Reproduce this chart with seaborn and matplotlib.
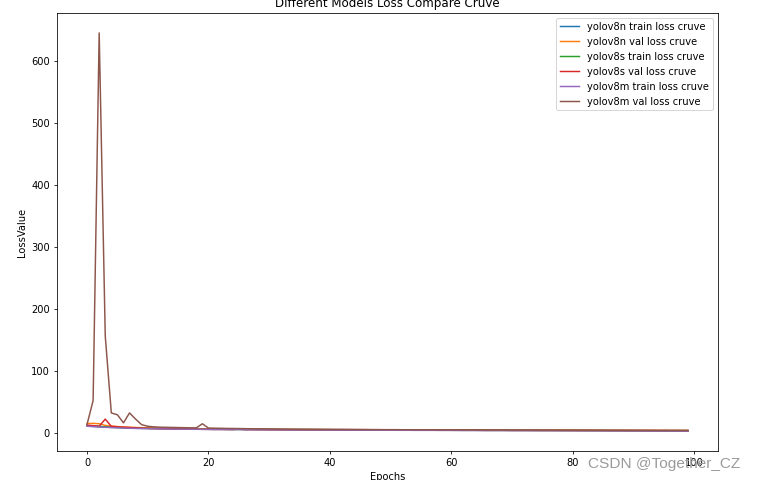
import numpy as np
import pandas as pd
import matplotlib
matplotlib.use('Agg')
import matplotlib.pyplot as plt
import seaborn as sns

plt.style.use('default')

# Epochs 0..99
epochs = list(range(100))

# Loss values
yolov8n_train = [11.6, 10.9, 10.3, 9.8, 9.3, 8.9, 8.5, 8.2, 7.9, 7.7,
                 7.5, 7.3, 7.1, 7.0, 6.8, 6.7, 6.6, 6.5, 6.4, 6.3,
                 6.2, 6.1, 6.0, 6.0, 5.9, 5.8, 5.8, 5.7, 5.7, 5.6,
                 5.6, 5.5, 5.5, 5.4, 5.4, 5.3, 5.3, 5.3, 5.2, 5.2,
                 5.1, 5.1, 5.1, 5.0, 5.0, 5.0, 4.9, 4.9, 4.9, 4.8,
                 4.8, 4.8, 4.7, 4.7, 4.7, 4.7, 4.6, 4.6, 4.6, 4.5,
                 4.5, 4.5, 4.5, 4.4, 4.4, 4.4, 4.4, 4.3, 4.3, 4.3,
                 4.3, 4.2, 4.2, 4.2, 4.2, 4.1, 4.1, 4.1, 4.1, 4.0,
                 4.0, 4.0, 4.0, 3.9, 3.9, 3.9, 3.9, 3.8, 3.8, 3.8,
                 3.7, 3.7, 3.7, 3.6, 3.6, 3.6, 3.5, 3.5, 3.5, 3.4]

yolov8n_val = [14.8, 15.2, 14.6, 11.9, 10.8, 10.0, 9.4, 9.0, 8.6, 8.2,
               7.9, 7.6, 7.4, 7.3, 7.1, 6.9, 6.8, 6.7, 6.6, 6.5,
               6.3, 6.2, 6.2, 6.1, 6.0, 5.9, 5.9, 5.8, 5.7, 5.7,
               5.6, 5.6, 5.5, 5.5, 5.4, 5.4, 5.3, 5.3, 5.3, 5.2,
               5.2, 5.1, 5.1, 5.1, 5.0, 5.0, 5.0, 4.9, 4.9, 4.9,
               4.8, 4.8, 4.8, 4.8, 4.7, 4.7, 4.7, 4.7, 4.6, 4.6,
               4.6, 4.6, 4.5, 4.5, 4.5, 4.5, 4.5, 4.4, 4.4, 4.4,
               4.4, 4.4, 4.3, 4.3, 4.3, 4.3, 4.3, 4.3, 4.2, 4.2,
               4.2, 4.2, 4.2, 4.2, 4.1, 4.1, 4.1, 4.1, 4.1, 4.1,
               4.0, 4.0, 4.0, 4.0, 4.0, 4.0, 3.9, 3.9, 3.9, 3.9]

yolov8s_train = [11.0, 10.3, 9.7, 9.2, 8.7, 8.3, 7.9, 7.6, 7.3, 7.1,
                 6.9, 6.7, 6.5, 6.4, 6.2, 6.1, 6.0, 5.9, 5.8, 5.7,
                 5.6, 5.5, 5.5, 5.4, 5.3, 5.3, 5.2, 5.2, 5.1, 5.1,
                 5.0, 5.0, 4.9, 4.9, 4.8, 4.8, 4.8, 4.7, 4.7, 4.6,
                 4.6, 4.6, 4.5, 4.5, 4.5, 4.4, 4.4, 4.4, 4.3, 4.3,
                 4.3, 4.2, 4.2, 4.2, 4.2, 4.1, 4.1, 4.1, 4.0, 4.0,
                 4.0, 4.0, 3.9, 3.9, 3.9, 3.9, 3.8, 3.8, 3.8, 3.8,
                 3.7, 3.7, 3.7, 3.7, 3.6, 3.6, 3.6, 3.6, 3.5, 3.5,
                 3.5, 3.5, 3.4, 3.4, 3.4, 3.4, 3.3, 3.3, 3.3, 3.2,
                 3.2, 3.2, 3.1, 3.1, 3.1, 3.0, 3.0, 3.0, 2.9, 2.9]

yolov8s_val = [12.3, 11.5, 10.6, 22.0, 10.4, 9.6, 8.9, 8.4, 7.9, 7.5,
               7.1, 6.8, 6.6, 6.4, 6.2, 6.0, 5.9, 5.8, 5.7, 5.6,
               5.5, 5.4, 5.4, 5.3, 5.2, 6.0, 5.1, 5.1, 5.0, 5.0,
               4.9, 4.9, 4.8, 4.8, 4.8, 4.7, 4.7, 4.7, 4.6, 4.6,
               4.6, 4.5, 4.5, 4.5, 4.4, 4.4, 4.4, 4.4, 4.3, 4.3,
               4.3, 4.3, 4.2, 4.2, 4.2, 4.2, 4.1, 4.1, 4.1, 4.1,
               4.0, 4.0, 4.0, 4.0, 4.0, 3.9, 3.9, 3.9, 3.9, 3.9,
               3.8, 3.8, 3.8, 3.8, 3.8, 3.7, 3.7, 3.7, 3.7, 3.7,
               3.6, 3.6, 3.6, 3.6, 3.6, 3.6, 3.5, 3.5, 3.5, 3.5,
               3.5, 3.5, 3.4, 3.4, 3.4, 3.4, 3.4, 3.4, 3.3, 3.3]

yolov8m_train = [10.6, 9.9, 9.3, 8.8, 8.4, 8.0, 7.6, 7.3, 7.0, 6.8,
                 6.6, 6.4, 6.3, 6.1, 6.0, 5.9, 5.8, 5.7, 5.6, 5.5,
                 5.4, 5.3, 5.3, 5.2, 5.1, 5.1, 5.0, 5.0, 4.9, 4.9,
                 4.8, 4.8, 4.7, 4.7, 4.6, 4.6, 4.6, 4.5, 4.5, 4.4,
                 4.4, 4.4, 4.3, 4.3, 4.3, 4.2, 4.2, 4.2, 4.1, 4.1,
                 4.1, 4.0, 4.0, 4.0, 3.9, 3.9, 3.9, 3.9, 3.8, 3.8,
                 3.8, 3.7, 3.7, 3.7, 3.7, 3.6, 3.6, 3.6, 3.6, 3.5,
                 3.5, 3.5, 3.5, 3.4, 3.4, 3.4, 3.4, 3.3, 3.3, 3.3,
                 3.3, 3.2, 3.2, 3.2, 3.2, 3.1, 3.1, 3.1, 3.1, 3.0,
                 3.0, 3.0, 2.9, 2.9, 2.9, 2.9, 2.8, 2.8, 2.8, 2.7]

yolov8m_val = [13.5, 52.0, 645.0, 156.0, 32.0, 29.0, 16.0, 32.0, 22.0, 13.0,
               10.5, 9.5, 9.0, 8.8, 8.6, 8.4, 8.2, 8.0, 7.9, 14.5,
               7.6, 7.4, 7.2, 7.0, 6.9, 6.8, 6.6, 6.5, 6.4, 6.3,
               6.2, 6.1, 6.0, 5.9, 5.8, 5.8, 5.7, 5.6, 5.6, 5.5,
               5.5, 5.4, 5.4, 5.3, 5.3, 5.2, 5.2, 5.1, 5.1, 5.0,
               5.0, 5.0, 4.9, 4.9, 4.8, 4.8, 4.8, 4.7, 4.7, 4.7,
               4.6, 4.6, 4.6, 4.5, 4.5, 4.5, 4.5, 4.4, 4.4, 4.4,
               4.4, 4.3, 4.3, 4.3, 4.3, 4.2, 4.2, 4.2, 4.2, 4.1,
               4.1, 4.1, 4.1, 4.1, 4.0, 4.0, 4.0, 4.0, 4.0, 3.9,
               3.9, 3.9, 3.9, 3.9, 3.8, 3.8, 3.8, 3.8, 3.8, 3.8]

labels = ['yolov8n train loss cruve', 'yolov8n val loss cruve',
          'yolov8s train loss cruve', 'yolov8s val loss cruve',
          'yolov8m train loss cruve', 'yolov8m val loss cruve']
series = [yolov8n_train, yolov8n_val, yolov8s_train,
          yolov8s_val, yolov8m_train, yolov8m_val]
colors = sns.color_palette('tab10', 6)

DPI = 71
fig = plt.figure(figsize=(758 / DPI, 480 / DPI), dpi=DPI)
ax = fig.add_axes([57 / 758, 1 - 451 / 480, (718 - 57) / 758, (451 - 13) / 480])

for name, vals, c in zip(labels, series, colors):
    sns.lineplot(x=epochs, y=vals, label=name, color=c, ax=ax)

ax.set_title('Different Models Loss Compare Cruve')
ax.set_xlabel('Epochs')
ax.set_ylabel('LossValue')
ax.legend(loc='upper right')

# watermark from the source screenshot
fig.text(0.776, 0.026, 'CSDN @Together_CZ', fontsize=15.6, color='#9a9a9a',
         family=['Liberation Sans', 'DejaVu Sans'])

fig.savefig('out.png', dpi=DPI)
